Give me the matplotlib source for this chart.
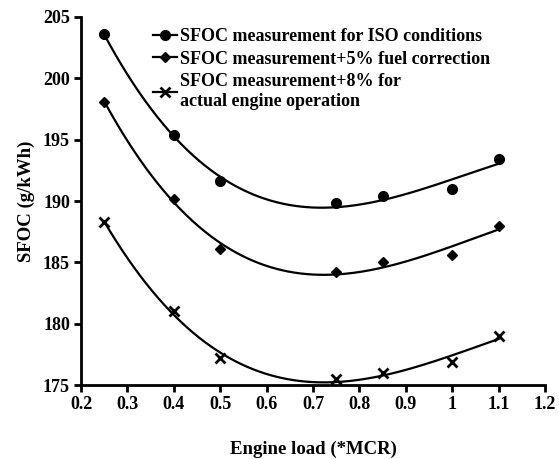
import numpy as np
import matplotlib
matplotlib.use("Agg")
import matplotlib.pyplot as plt
from matplotlib.lines import Line2D

plt.rcParams['font.family'] = ['Liberation Serif', 'DejaVu Serif']
plt.rcParams['font.weight'] = 'bold'

load = [0.25, 0.4, 0.5, 0.75, 0.85, 1.0, 1.1]
sfoc_iso = [203.6, 195.4, 191.6, 189.8, 190.4, 191.0, 193.4]
sfoc_5 = [198.1, 190.2, 186.1, 184.2, 185.0, 185.6, 188.0]
sfoc_8 = [188.3, 181.0, 177.2, 175.5, 176.0, 176.9, 179.0]
labels = ["SFOC measurement for ISO conditions",
          "SFOC measurement+5% fuel correction",
          "SFOC measurement+8% for\nactual engine operation"]
xticks = [0.2, 0.3, 0.4, 0.5, 0.6, 0.7, 0.8, 0.9, 1.0, 1.1, 1.2]
xticklabels = ["0.2", "0.3", "0.4", "0.5", "0.6", "0.7", "0.8", "0.9", "1", "1.1", "1.2"]
yticks = [175, 180, 185, 190, 195, 200, 205]

fig = plt.figure(figsize=(5.59, 4.59), dpi=100)
ax = fig.add_axes([0.145, 0.161, 0.83, 0.802])

x = np.array(load)
xs = np.linspace(min(load), max(load), 200)
markers = [dict(marker='o', ms=7), dict(marker='D', ms=5.5), dict(marker='x', ms=7, mew=2)]
handles = []
for ys, mk, lab in zip([sfoc_iso, sfoc_5, sfoc_8], markers, labels):
    c = np.polyfit(x, np.array(ys), 3)
    ax.plot(xs, np.polyval(c, xs), color='black', lw=1.6)
    ax.plot(x, ys, linestyle='none', color='black', **mk)
    handles.append(Line2D([], [], color='black', lw=1.6, **mk))

ax.set_xlim(0.2, 1.2)
ax.set_ylim(175, 205)
ax.set_xticks(xticks)
ax.set_xticklabels(xticklabels)
ax.set_yticks(yticks)
for s in ['top', 'right']:
    ax.spines[s].set_visible(False)
for s in ['left', 'bottom']:
    ax.spines[s].set_linewidth(2)
ax.tick_params(direction='out', length=5, width=2, labelsize=13, pad=3)
ax.set_xlabel("Engine load (*MCR)", fontsize=13.5, fontweight='bold', labelpad=20)
ax.set_ylabel("SFOC (g/kWh)", fontsize=13.5, fontweight='bold', labelpad=6)

leg = ax.legend(handles, labels, loc='upper left', bbox_to_anchor=(0.14, 0.99),
                frameon=False, fontsize=13, handlelength=1.3, handletextpad=0.2,
                labelspacing=0.32, borderaxespad=0)

fig.savefig("out.png", dpi=100)
